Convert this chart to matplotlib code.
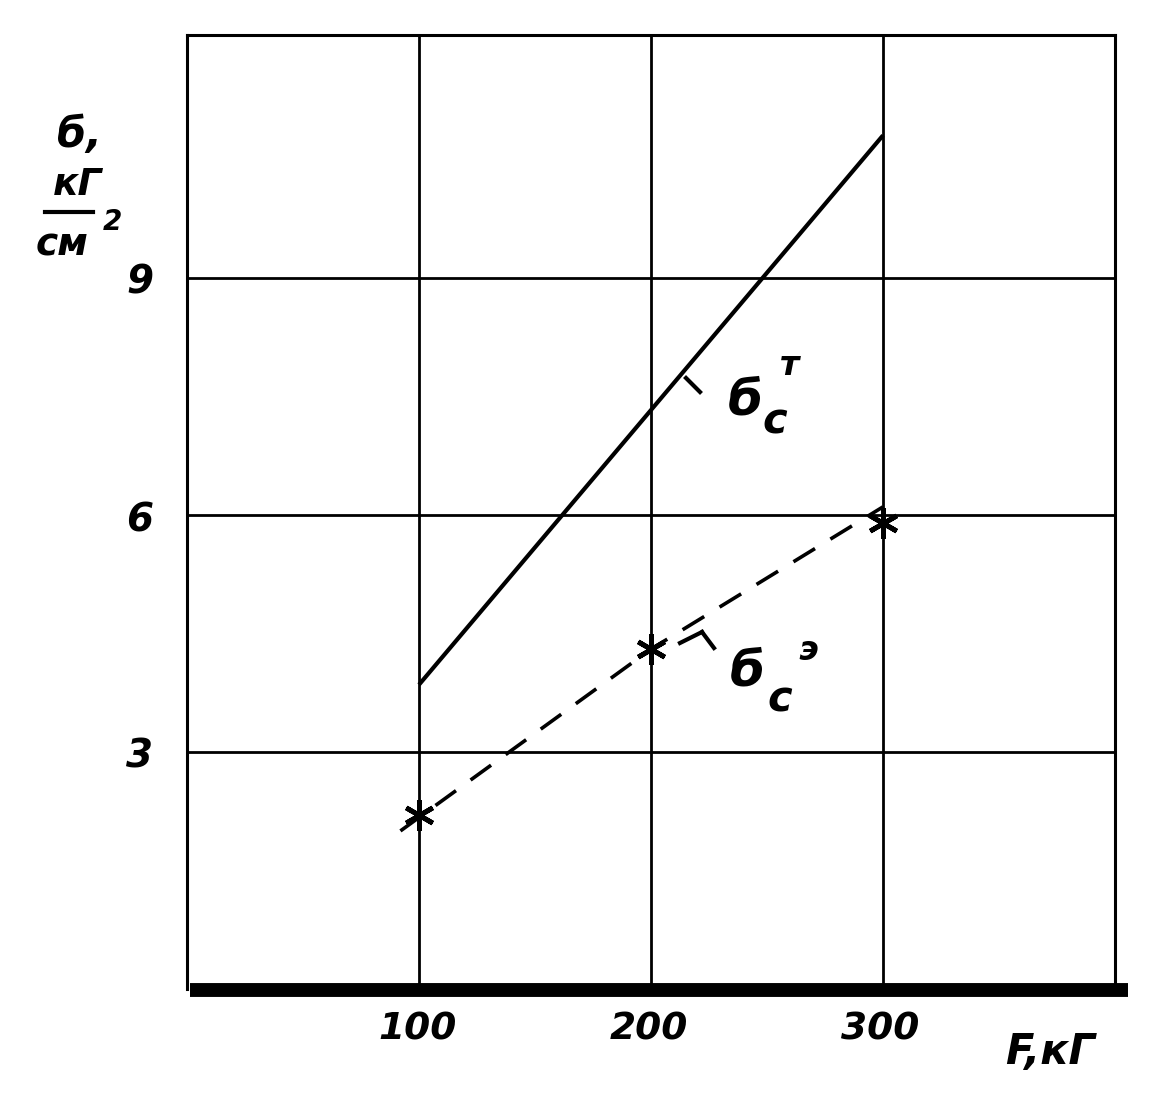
import matplotlib
matplotlib.use("Agg")
import matplotlib.pyplot as plt

# data
F_solid = [100, 300]
sigma_t = [3.85, 10.8]          # б_c^т
F_dash = [92, 200, 300]
sigma_e_line = [2.0, 4.3, 6.1]  # б_c^э (dashed line)
F_pts = [100, 200, 300]
sigma_e_pts = [2.2, 4.3, 5.9]
xticks = [100, 200, 300]
yticks = [3, 6, 9]

W, H = 1159, 1104
fig = plt.figure(figsize=(W / 100, H / 100), dpi=100)
ax = fig.add_axes([187 / W, 1 - 989 / H, (1115 - 187) / W, (989 - 35) / H])
ax.set_xlim(0, 400)
ax.set_ylim(0, 12.07)

ax.set_xticks(xticks)
ax.set_yticks(yticks)
ax.tick_params(length=0, labelbottom=False, labelleft=False)
ax.grid(True, color="black", linewidth=2)
for s in ["left", "top", "right"]:
    ax.spines[s].set_linewidth(2.2)
ax.spines["bottom"].set_visible(False)
# thick base line, a bit longer than the frame
fig.add_artist(plt.Line2D([190 / W, 1128 / W], [1 - 990 / H, 1 - 990 / H],
                          color="black", linewidth=10, solid_capstyle="butt"))

ax.plot(F_solid, sigma_t, color="black", linewidth=3, solid_capstyle="butt")
ax.plot(F_dash, sigma_e_line, color="black", linewidth=2.6, linestyle=(0, (7, 5)))
ax.plot(F_pts, sigma_e_pts, linestyle="none", marker=(6, 2, 0), markersize=22,
        markeredgewidth=3.5, color="black")

font = dict(family="DejaVu Sans", fontweight="bold", style="italic", color="black")


def ftext(x, y, s, size, **kw):
    fig.text(x / W, 1 - y / H, s, fontsize=size, ha="center", va="center", **font, **kw)


# tick labels
for v in xticks:
    px = 187 + (v / 100) * 231
    ftext(px, 1030, str(v), 27)
for v in yticks:
    py = 989 - v * 79
    ftext(140, py + 5, str(v), 28)

ftext(1050, 1052, "F,кГ", 30)

# y axis label
ftext(80, 135, "б,", 30)
ftext(78, 185, "кГ", 27)
fig.add_artist(plt.Line2D([45 / W, 93 / W], [1 - 212 / H, 1 - 212 / H], color="black", linewidth=3))
ftext(62, 245, "см", 27)
ftext(112, 222, "2", 20)

# curve labels with small tick marks
fig.add_artist(plt.Line2D([686 / W, 700 / W], [1 - 378 / H, 1 - 392 / H], color="black", linewidth=3))
ftext(745, 400, "б", 36)
ftext(775, 422, "с", 30)
ftext(790, 365, "т", 24)

fig.add_artist(plt.Line2D([680 / W, 702 / W], [1 - 643 / H, 1 - 632 / H], color="black", linewidth=3))
fig.add_artist(plt.Line2D([702 / W, 714 / W], [1 - 632 / H, 1 - 648 / H], color="black", linewidth=3))
ftext(747, 672, "б", 36)
ftext(780, 700, "с", 30)
ftext(808, 650, "э", 24)

fig.savefig("out.png", dpi=100, facecolor="white")
